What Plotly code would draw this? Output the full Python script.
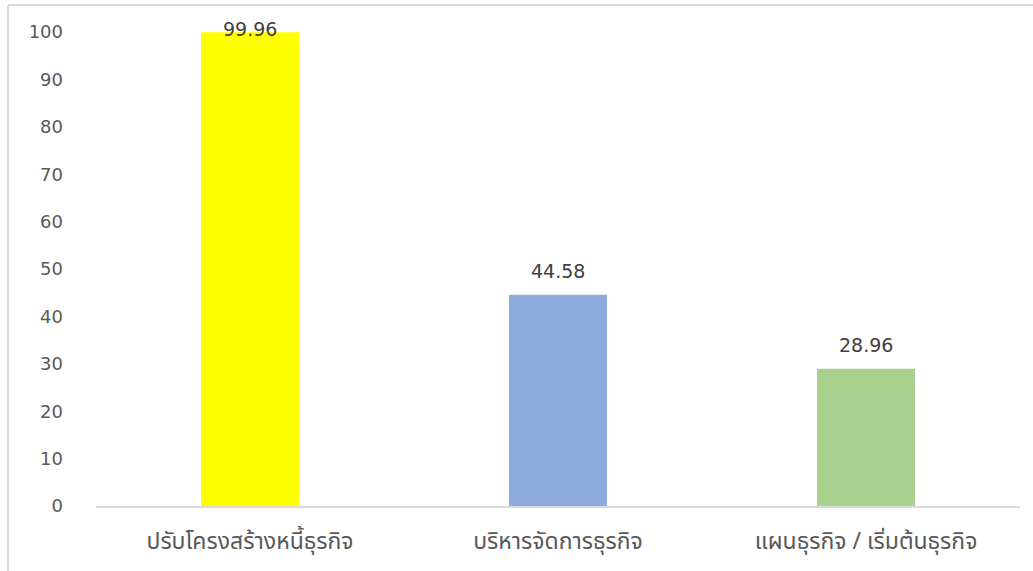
import plotly.graph_objects as go

categories = ["ปรับโครงสร้างหนี้ธุรกิจ", "บริหารจัดการธุรกิจ", "แผนธุรกิจ / เริ่มต้นธุรกิจ"]
values = [99.96, 44.58, 28.96]
colors = ["#FFFF00", "#8FAADC", "#A9D18E"]
y_ticks = [0, 10, 20, 30, 40, 50, 60, 70, 80, 90, 100]

W, H = 1033, 571
L, R, T, B = 96, 13, 32, 63
pw, ph = W - L - R, H - T - B

fig = go.Figure()
fig.add_trace(go.Bar(
    x=categories, y=values, marker=dict(color=colors, line=dict(width=0)),
    width=0.318, hoverinfo="x+y",
))

ymax = 100
for c, v in zip(categories, values):
    # label sits 24px above bar top, clamped so it stays near the plot top
    shift = min(24, (ymax - v) * ph / ymax + 3)
    fig.add_annotation(x=c, y=v, yshift=shift, text=f"{v:.2f}", showarrow=False,
                       xanchor="center", yanchor="middle",
                       font=dict(family="DejaVu Sans, Tahoma, sans-serif", size=19, color="#404040"))

border = dict(color="#D9D9D9", width=2)
x_left = (8 - L) / pw
y_top = 1 + (T - 5) / ph
fig.add_shape(type="line", xref="paper", yref="paper", x0=x_left, x1=(W - L) / pw, y0=y_top, y1=y_top, line=border)
fig.add_shape(type="line", xref="paper", yref="paper", x0=x_left, x1=x_left, y0=y_top, y1=-(H - T - ph) / ph - 0.01, line=border)

fig.update_layout(
    width=W, height=H,
    margin=dict(l=L, r=R, t=T, b=B),
    paper_bgcolor="white", plot_bgcolor="white",
    showlegend=False,
    font=dict(family="DejaVu Sans, Tahoma, 'Noto Sans Thai', sans-serif", color="#595959"),
    xaxis=dict(showline=True, linecolor="#D9D9D9", linewidth=1.5, showgrid=False,
               tickfont=dict(size=23, color="#595959", family="Tahoma, 'Noto Sans Thai', 'DejaVu Sans', sans-serif"),
               ticks="", ticklabelstandoff=14, fixedrange=True),
    yaxis=dict(range=[0, ymax], tickvals=y_ticks, showgrid=False, showline=False, zeroline=False,
               tickfont=dict(size=18, color="#595959"), ticks="", ticklabelstandoff=32, fixedrange=True),
)

fig.write_html("out.html")
